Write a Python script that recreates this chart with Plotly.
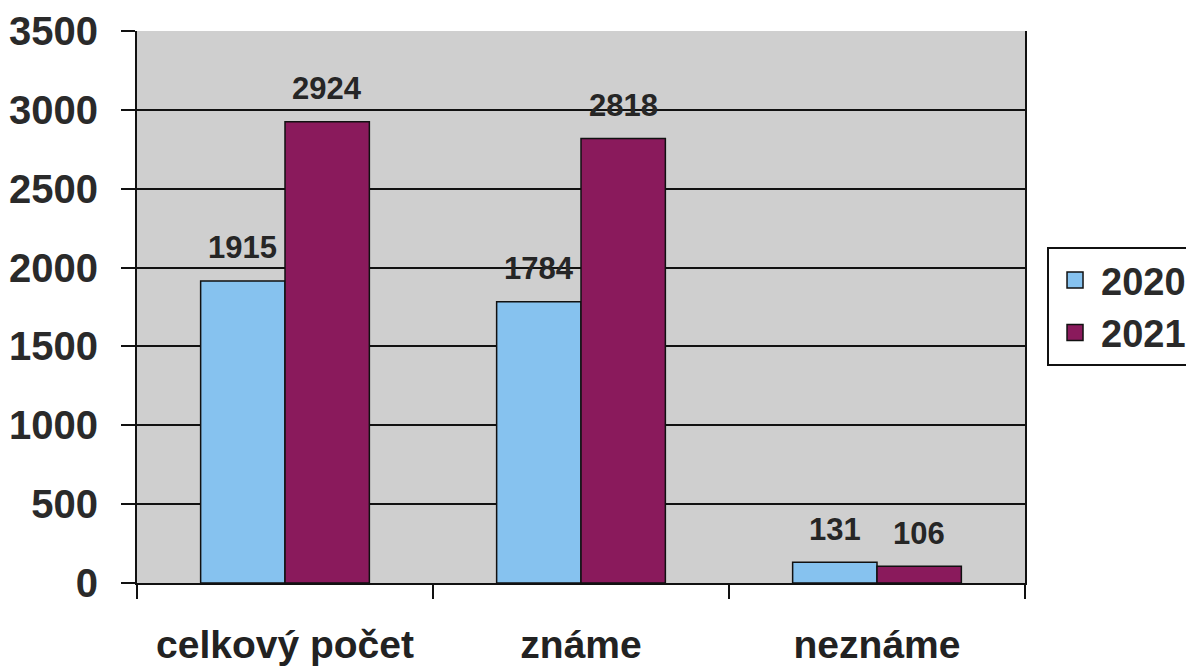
import plotly.graph_objects as go

categories = ["celkový počet", "známe", "neznáme"]
series_names = ["2020", "2021"]
values_2020 = [1915, 1784, 131]
values_2021 = [2924, 2818, 106]
y_ticks = [0, 500, 1000, 1500, 2000, 2500, 3000, 3500]

colors = ["#86c2ef", "#8a1a5c"]
W, H = 1194, 668
# page body has an 8px offset; margins compensate
ML, MR, MT, MB = 129, 177, 23, 93
bargap = 0.43
FONT = "Liberation Sans"

fig = go.Figure()
for name, vals, col in zip(series_names, [values_2020, values_2021], colors):
    fig.add_trace(go.Bar(
        x=categories, y=vals, name=name, showlegend=False,
        marker=dict(color=col, line=dict(color="#111111", width=1.5)),
    ))
# legend proxies with larger square symbols
for name, col in zip(series_names, colors):
    fig.add_trace(go.Scatter(
        x=[None], y=[None], mode="markers", name=name,
        marker=dict(symbol="square", size=16, color=col,
                    line=dict(color="#111111", width=1.5)),
    ))

plot_w = W - ML - MR
cat_w = plot_w / len(categories)
bar_w = cat_w * (1 - bargap) / 2
annotations = []
for i, vals in enumerate([values_2020, values_2021]):
    shift = (i - 0.5) * bar_w
    for c, v in zip(categories, vals):
        annotations.append(dict(
            x=c, y=v, text=str(v), showarrow=False, xref="x", yref="y",
            xshift=shift, yshift=33,
            font=dict(family=FONT, size=31, color="#262626", weight="bold"),
        ))

fig.update_layout(
    width=W, height=H,
    margin=dict(l=ML, r=MR, t=MT, b=MB, autoexpand=False),
    paper_bgcolor="white",
    plot_bgcolor="#cfcfcf",
    barmode="group", bargap=bargap, bargroupgap=0,
    font=dict(family=FONT, color="#2a2a2a"),
    annotations=annotations,
    showlegend=True,
    legend=dict(
        x=1.0248, y=0.609, xanchor="left", yanchor="top",
        bgcolor="white", bordercolor="#111111", borderwidth=2,
        font=dict(family=FONT, size=38, color="#2a2a2a", weight="bold"),
        itemsizing="trace", tracegroupgap=0, itemwidth=42,
    ),
)
fig.update_xaxes(
    type="category", tickson="boundaries", ticks="outside", ticklen=14,
    tickcolor="#111111", tickwidth=2,
    showline=True, linecolor="#111111", linewidth=2,
    tickfont=dict(family=FONT, size=39, color="#222222", weight="bold"),
    ticklabelstandoff=26,
    showgrid=False, automargin=False,
)
fig.update_yaxes(
    range=[0, 3500], tickvals=y_ticks, ticks="outside", ticklen=14,
    tickcolor="#111111", tickwidth=2,
    showline=True, linecolor="#111111", linewidth=2, mirror=True,
    gridcolor="#111111", gridwidth=1.5,
    tickfont=dict(family=FONT, size=40, color="#2a2a2a", weight="bold"),
    ticklabelstandoff=15,
    zeroline=False, automargin=False,
)

fig.write_html("out.html")
